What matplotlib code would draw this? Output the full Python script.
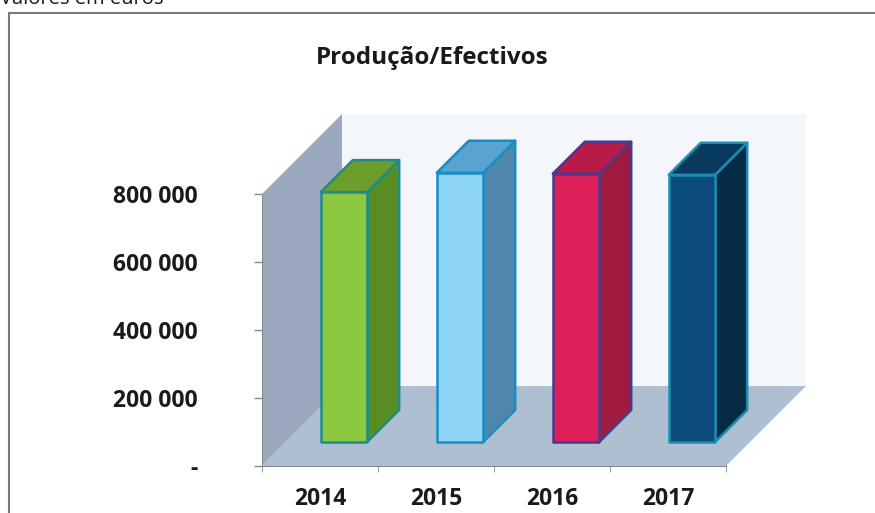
import matplotlib.pyplot as plt
from matplotlib.patches import Polygon, Rectangle

plt.rcParams['font.family'] = ['Open Sans', 'DejaVu Sans']

# Chart data
years = ['2014', '2015', '2016', '2017']
values = [735000, 792000, 789000, 786000]
y_ticks = [0, 200000, 400000, 600000, 800000]
y_tick_labels = ['-', '200 000', '400 000', '600 000', '800 000']

front_colors = ['#8cc940', '#8ed4f4', '#df1f5a', '#0b4b7c']
side_colors = ['#5a8c24', '#4f88aa', '#a0193f', '#062b45']
top_colors = ['#6d9e2c', '#5aa2cf', '#b91b49', '#083a5e']
edge_colors = ['#1d8c8a', '#1a8cc4', '#4a3a8c', '#1b8db2']

W, H = 875, 513
fig = plt.figure(figsize=(W / 100, H / 100), dpi=100)

# axes placed so one category = 116 px, 200 000 = 68 px
cat_px = 116.0
val_per_px = 200000 / 68.0
x0_px, y0_px = 262, 466
right_px, top_px = 808, 110
ax = fig.add_axes([x0_px / W, (H - y0_px) / H, (right_px - x0_px) / W, (y0_px - top_px) / H])
ax.set_xlim(0, (right_px - x0_px) / cat_px)
ax.set_ylim(0, (y0_px - top_px) * val_per_px)
ax.patch.set_alpha(0)


def proj(x, y, d):
    # oblique projection: depth d in pixels goes up and to the right
    return (x + d / cat_px, y + d * val_per_px)


ymax = 800000
n = len(years)
depth = 80
bar_d0, bar_d1 = 24, 56
bar_w = 0.4

# back wall, left wall and floor
back = [proj(0, 0, depth), proj(n, 0, depth), proj(n, ymax, depth), proj(0, ymax, depth)]
ax.add_patch(Polygon(back, closed=True, facecolor='#f3f7fb', edgecolor='none', zorder=0))
wall = [proj(0, 0, 0), proj(0, ymax, 0), proj(0, ymax, depth), proj(0, 0, depth)]
ax.add_patch(Polygon(wall, closed=True, facecolor='#9ca8bd', edgecolor='none', zorder=1))
floor = [proj(0, 0, 0), proj(n, 0, 0), proj(n, 0, depth), proj(0, 0, depth)]
ax.add_patch(Polygon(floor, closed=True, facecolor='#adbfd0', edgecolor='none', zorder=2))

# 3D bars
for i, v in enumerate(values):
    xa = i + 0.5 - bar_w / 2
    xb = i + 0.5 + bar_w / 2
    side = [proj(xb, 0, bar_d0), proj(xb, 0, bar_d1), proj(xb, v, bar_d1), proj(xb, v, bar_d0)]
    top = [proj(xa, v, bar_d0), proj(xb, v, bar_d0), proj(xb, v, bar_d1), proj(xa, v, bar_d1)]
    front = [proj(xa, 0, bar_d0), proj(xb, 0, bar_d0), proj(xb, v, bar_d0), proj(xa, v, bar_d0)]
    for pts, col in [(side, side_colors[i]), (top, top_colors[i]), (front, front_colors[i])]:
        ax.add_patch(Polygon(pts, closed=True, facecolor=col, edgecolor=edge_colors[i],
                             linewidth=1.8, joinstyle='round', zorder=3))

# axes lines and ticks
for s in ['top', 'right']:
    ax.spines[s].set_visible(False)
ax.spines['left'].set_bounds(0, ymax)
ax.spines['bottom'].set_bounds(0, n)
ax.spines['left'].set_color('#8a8a8a')
ax.spines['bottom'].set_color('#8a8a8a')
ax.spines['left'].set_zorder(4)

ax.set_yticks(y_ticks)
ax.set_yticklabels(y_tick_labels, fontsize=16.5, fontweight='bold', color='#1a1a1a')
ax.tick_params(axis='y', length=6, width=1, color='#8a8a8a', pad=40)

ax.set_xticks([i + 0.5 for i in range(n)])
ax.set_xticklabels(years, fontsize=16.5, fontweight='bold', color='#1a1a1a')
ax.tick_params(axis='x', length=0, pad=15)
ax.set_xticks(range(n + 1), minor=True)
ax.tick_params(axis='x', which='minor', length=8, direction='inout', color='#8a8a8a')

# chart title and outer frame
fig.text(432 / W, 1 - 58 / H, 'Produção/Efectivos', ha='center', va='center',
         fontsize=17.5, fontweight='bold', color='#1a1a1a')
fig.text(0, 1 + 1 / H, 'Valores em euros', ha='left', va='center', fontsize=14.5, color='#1a1a1a')
fig.patches.append(Rectangle((9 / W, -0.1), 1.2, 1 - 13 / H + 0.1, transform=fig.transFigure,
                             fill=False, edgecolor='#7a7a7a', linewidth=1.5))

fig.savefig('out.png', dpi=100)
